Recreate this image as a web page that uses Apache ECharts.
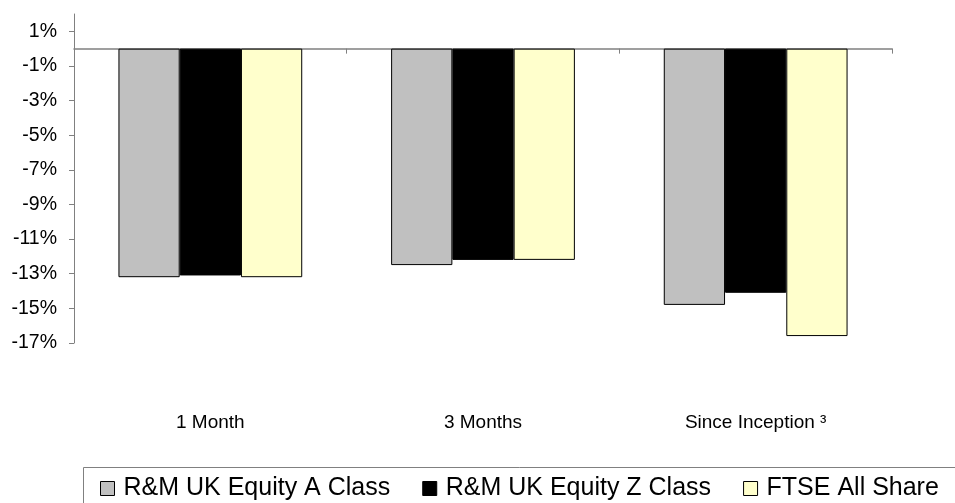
<!DOCTYPE html>
<html>
<head>
<meta charset="utf-8">
<script src="https://cdn.jsdelivr.net/npm/echarts@6/dist/echarts.min.js"></script>
<style>
html,body{margin:0;padding:0;background:#fff;}
#chart{width:955px;height:503px;}
</style>
</head>
<body>
<div id="chart"></div>
<script>
var categories = ['1 Month', '3 Months', 'Since Inception \u00B3'];
var seriesNames = ['R&M UK Equity A Class', 'R&M UK Equity Z Class', 'FTSE All Share'];
var classA = [-13.2, -12.5, -14.8];
var classZ = [-13.1, -12.2, -14.1];
var ftse = [-13.2, -12.2, -16.6];
var yTicks = [1, -1, -3, -5, -7, -9, -11, -13, -15, -17];
var colors = ['#C0C0C0', '#000000', '#FFFFCC'];

var FONT = "'Liberation Sans', Arial, sans-serif";
var chart = echarts.init(document.getElementById('chart'), null, {renderer: 'canvas'});

function bar(name, data, color) {
  return {
    name: name,
    type: 'bar',
    xAxisIndex: 0,
    yAxisIndex: 0,
    data: data,
    barGap: '0%',
    barCategoryGap: '32.6%',
    itemStyle: {color: color, borderColor: '#000', borderWidth: 1},
    emphasis: {disabled: true}
  };
}

chart.setOption({
  animation: false,
  backgroundColor: '#fff',
  textStyle: {fontFamily: FONT},
  grid: {left: 74, right: 63, top: 14, bottom: 160, containLabel: false},
  xAxis: [{
    type: 'category',
    data: categories,
    boundaryGap: true,
    axisLine: {show: true, onZero: true, lineStyle: {color: '#808080', width: 1.5}},
    axisTick: {show: true, length: 5, lineStyle: {color: '#808080', width: 1}},
    axisLabel: {show: false},
    splitLine: {show: false}
  }, {
    type: 'category',
    data: categories,
    position: 'bottom',
    boundaryGap: true,
    axisLine: {show: false, onZero: false},
    axisTick: {show: false},
    axisLabel: {show: true, margin: 70, fontSize: 19, color: '#000', fontFamily: FONT},
    splitLine: {show: false}
  }],
  yAxis: {
    type: 'value',
    min: -17,
    max: 2,
    axisLine: {show: true, lineStyle: {color: '#808080', width: 1}},
    axisTick: {show: true, length: 5, customValues: yTicks, lineStyle: {color: '#808080'}},
    axisLabel: {
      show: true, customValues: yTicks, margin: 17, fontSize: 19.5, color: '#000', fontFamily: FONT,
      formatter: function (v) { return v + '%'; }
    },
    splitLine: {show: false}
  },
  legend: {
    left: 100,
    top: 476,
    padding: 0,
    itemGap: 32,
    itemWidth: 14,
    itemHeight: 14,
    icon: 'rect',
    selectedMode: false,
    data: seriesNames,
    itemStyle: {borderColor: '#000', borderWidth: 1},
    textStyle: {fontSize: 25, color: '#000', fontFamily: FONT, padding: [0, 0, 0, 4]}
  },
  graphic: [{
    type: 'rect',
    z: -1,
    shape: {x: 83.5, y: 467.5, width: 1000, height: 100},
    style: {fill: 'none', stroke: '#808080', lineWidth: 1}
  }],
  series: [
    bar(seriesNames[0], classA, colors[0]),
    bar(seriesNames[1], classZ, colors[1]),
    bar(seriesNames[2], ftse, colors[2])
  ]
});
</script>
</body>
</html>
